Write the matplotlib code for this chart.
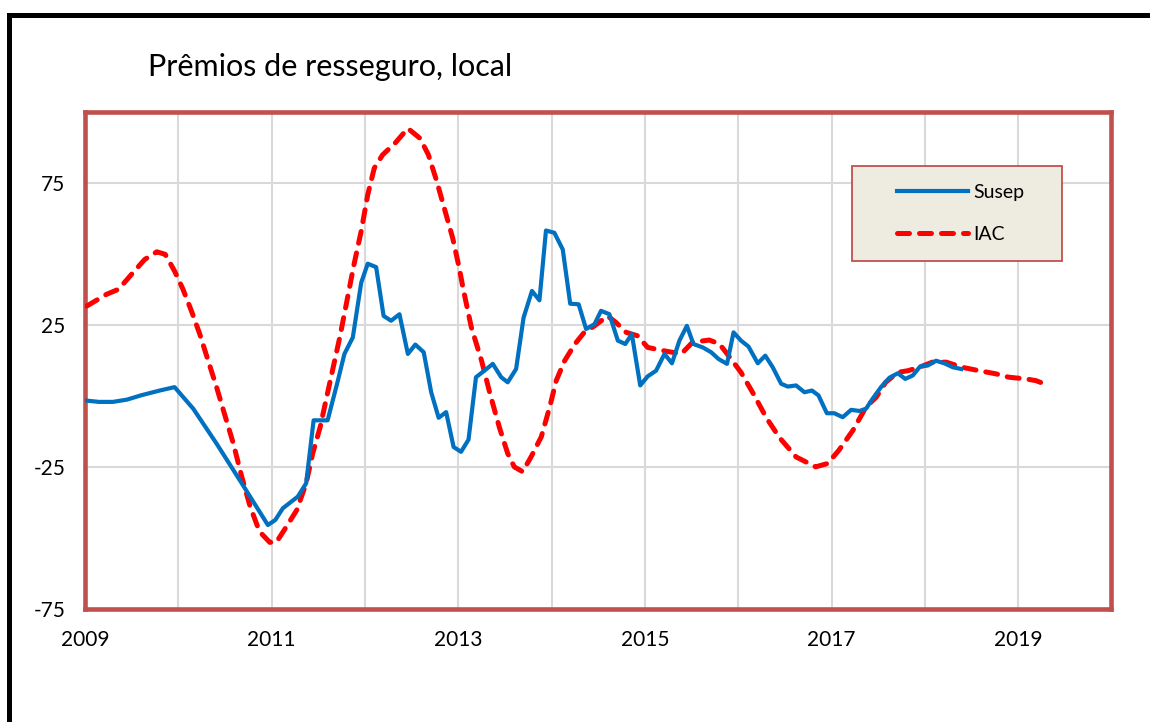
import matplotlib
matplotlib.use("Agg")
import matplotlib.pyplot as plt
from matplotlib.patches import Rectangle

plt.rcParams['font.family'] = ['Lato', 'DejaVu Sans']
plt.rcParams['axes.unicode_minus'] = False

# Susep series (decimal year, value)
susep_t = [2009.00, 2009.15, 2009.30, 2009.45, 2009.60, 2009.80, 2009.96, 2010.16, 2010.41,
           2010.68, 2010.96, 2011.04, 2011.12, 2011.28, 2011.37, 2011.45, 2011.60, 2011.71,
           2011.78, 2011.87, 2011.96, 2012.03, 2012.12, 2012.20, 2012.28, 2012.37, 2012.46,
           2012.54, 2012.63, 2012.71, 2012.79, 2012.87, 2012.95, 2013.03, 2013.11, 2013.19,
           2013.28, 2013.37, 2013.46, 2013.53, 2013.62, 2013.70, 2013.79, 2013.87, 2013.94,
           2014.03, 2014.12, 2014.20, 2014.29, 2014.37, 2014.46, 2014.53, 2014.62, 2014.71,
           2014.79, 2014.86, 2014.95, 2015.03, 2015.12, 2015.21, 2015.29, 2015.37, 2015.45,
           2015.52, 2015.62, 2015.71, 2015.79, 2015.88, 2015.95, 2016.03, 2016.11, 2016.21,
           2016.29, 2016.37, 2016.46, 2016.53, 2016.62, 2016.71, 2016.79, 2016.86, 2016.95,
           2017.03, 2017.12, 2017.21, 2017.30, 2017.37, 2017.44, 2017.53, 2017.62, 2017.71,
           2017.79, 2017.87, 2017.95, 2018.03, 2018.12, 2018.21, 2018.30, 2018.39]
susep_v = [-1.5, -2.0, -2.0, -1.2, 0.3, 2.0, 3.2, -4.4, -16.7,
           -30.7, -45.4, -43.6, -39.5, -35.4, -30.7, -8.5, -8.5, 5.5,
           14.9, 20.7, 40.0, 46.7, 45.5, 28.3, 26.6, 28.9, 14.9,
           18.2, 15.5, 1.4, -7.6, -5.6, -17.9, -19.6, -15.3, 6.7,
           9.0, 11.4, 6.7, 4.9, 9.6, 27.7, 37.1, 33.8, 58.4,
           57.6, 51.7, 32.6, 32.4, 23.7, 25.4, 30.1, 28.9, 19.6,
           18.4, 21.9, 3.8, 7.0, 9.0, 14.9, 11.6, 19.6, 24.8,
           18.4, 17.2, 15.5, 13.1, 11.4, 22.5, 19.6, 17.5, 11.6,
           14.3, 10.2, 4.4, 3.4, 3.8, 1.4, 2.0, 0.3, -6.0,
           -6.0, -7.4, -4.8, -5.2, -4.4, -0.9, 3.2, 6.5, 8.1,
           6.1, 7.3, 10.5, 10.8, 12.5, 11.6, 10.2, 9.6]

# IAC series (decimal year, value)
iac_t = [2009.02, 2009.23, 2009.36, 2009.50, 2009.64, 2009.77, 2009.86, 2009.96, 2010.05,
         2010.14, 2010.23, 2010.32, 2010.41, 2010.50, 2010.59, 2010.68, 2010.77, 2010.87,
         2010.98, 2011.05, 2011.16, 2011.27, 2011.37, 2011.44, 2011.52, 2011.59, 2011.66,
         2011.73, 2011.80, 2011.88, 2011.96, 2012.03, 2012.10, 2012.19, 2012.32, 2012.46,
         2012.59, 2012.68, 2012.77, 2012.85, 2012.94, 2013.01, 2013.05, 2013.14, 2013.25,
         2013.34, 2013.44, 2013.53, 2013.60, 2013.69, 2013.78, 2013.89, 2013.98, 2014.05,
         2014.14, 2014.25, 2014.35, 2014.46, 2014.60, 2014.69, 2014.80, 2014.92, 2015.03,
         2015.19, 2015.39, 2015.51, 2015.69, 2015.80, 2015.91, 2016.03, 2016.16, 2016.30,
         2016.44, 2016.62, 2016.83, 2016.96, 2017.08, 2017.23, 2017.37, 2017.48, 2017.58,
         2017.71, 2017.82, 2017.94, 2018.08, 2018.23, 2018.40, 2018.58, 2018.76, 2018.90,
         2019.08, 2019.19, 2019.30]
iac_v = [31.8, 35.9, 37.7, 43.0, 48.2, 50.9, 50.0, 44.1, 37.7,
         30.1, 21.9, 12.5, 3.2, -6.8, -16.7, -28.4, -38.9, -47.7,
         -51.5, -51.5, -45.9, -40.1, -30.7, -20.2, -10.9, -0.3, 10.2,
         20.7, 32.4, 46.0, 58.2, 71.0, 80.4, 85.1, 89.1, 94.4,
         90.9, 85.1, 75.7, 66.3, 55.8, 45.3, 38.3, 24.3, 12.5,
         0.9, -10.9, -20.2, -24.9, -26.6, -21.4, -14.3, -3.8, 5.5,
         12.5, 18.4, 22.5, 24.8, 28.3, 26.0, 22.5, 21.3, 17.2,
         16.1, 14.9, 19.0, 19.8, 18.4, 13.7, 8.4, 1.0, -7.5,
         -14.5, -21.4, -24.9, -23.7, -19.0, -12.0, -3.8, -0.3, 4.9,
         8.4, 9.0, 10.2, 12.0, 12.0, 10.2, 9.0, 7.9, 6.7,
         6.1, 5.5, 4.1]

years = list(range(2009, 2021))
year_labels = [str(y) if y % 2 == 1 and y < 2020 else "" for y in years]
y_ticks = [-75, -25, 25, 75]

fig = plt.figure(figsize=(11.5, 7.22), dpi=100)
ax = fig.add_axes([0.0739, 0.1565, 0.8926, 0.6877])

ax.plot(iac_t, iac_v, color="#FF0000", lw=3.6, dashes=(2.4, 2.0),
        dash_capstyle="round", label="IAC", zorder=3)
ax.plot(susep_t, susep_v, color="#0070C0", lw=3.0, label="Susep", zorder=4)

ax.set_xlim(2009, 2020)
ax.set_ylim(-75, 100)
ax.set_xticks(years)
ax.set_xticklabels(year_labels)
ax.set_yticks(y_ticks)
ax.grid(True, color="#D9D9D9", lw=1.5)
ax.set_axisbelow(True)
ax.tick_params(length=0, labelsize=15)
ax.tick_params(axis="x", pad=15)
ax.tick_params(axis="y", pad=14)
for s in ax.spines.values():
    s.set_color("#C0504D")
    s.set_linewidth(3.3)

# legend box
ax.add_patch(Rectangle((0.7475, 0.7009), 0.204, 0.192, transform=ax.transAxes,
                       facecolor="#EEECE1", edgecolor="#C0504D", lw=1.3, zorder=5))
handles, labels = ax.get_legend_handles_labels()
leg = ax.legend(handles[::-1], labels[::-1], loc="center left",
                bbox_to_anchor=(0.7908, 0.7966), frameon=False, fontsize=14,
                handlelength=3.65, handletextpad=0.3, labelspacing=1.3,
                borderpad=0, borderaxespad=0)
leg.set_zorder(6)

fig.text(148 / 1150, 1 - 67 / 722, "Prêmios de resseguro, local", fontsize=22,
         va="center", ha="left")

# outer black frame
fig.add_artist(Rectangle((8.5 / 1150, -0.1), 2, 1.1 - 14.7 / 722,
                         transform=fig.transFigure, fill=False,
                         edgecolor="black", lw=3.6))

fig.savefig("out.png", dpi=100)
